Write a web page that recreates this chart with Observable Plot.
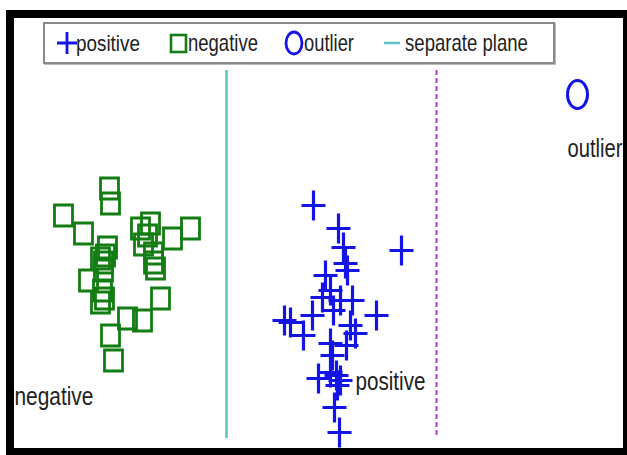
<!DOCTYPE html>
<html>
<head>
<meta charset="utf-8">
<script src="https://cdn.jsdelivr.net/npm/d3@7"></script>
<script src="https://cdn.jsdelivr.net/npm/@observablehq/plot@0.6"></script>
<style>
  html, body { margin: 0; padding: 0; background: #fff; }
  body { width: 627px; height: 455px; overflow: hidden; position: relative;
         font-family: 'Liberation Sans', Arial, sans-serif; }
  #frame { position: absolute; left: 6px; top: 10px; width: 625px; height: 446px;
           border: 8px solid #000; box-sizing: border-box; background: #fff; }
  #chart { position: absolute; left: 0; top: 0; }
  #legend { position: absolute; left: 29px; top: 4px; width: 512px; height: 42px;
            box-sizing: border-box; border: 2px solid #8a8a8a; background: #fff;
            box-shadow: 1px 1px 0 #bbb; }
  #legend svg { position: absolute; left: -2px; top: -2px; }
</style>
</head>
<body>
<div id="frame">
  <div id="chart"></div>
  <div id="legend"></div>
</div>
<script>
// ---- data (x to the right, y upward) ----
const negX = [95, 96, 49, 69, 126, 136, 133, 158, 176, 129, 139, 139, 141, 93, 91, 89, 86, 74, 89, 88, 90, 86, 146, 113, 128, 96, 99];
const negY = [260, 245, 233, 215, 220, 225, 213, 210, 220, 204, 195, 186, 180, 201, 193, 186, 190, 168, 178, 158, 150, 146, 150, 130, 128, 113, 88];

const posX = [299, 324, 387, 329, 331, 311, 333, 316, 308, 326, 338, 319, 362, 270, 276, 298, 289, 336, 341, 316, 332, 318, 304, 316, 322, 326, 323, 320, 325];
const posY = [243, 220, 198, 201, 185, 173, 178, 158, 151, 148, 148, 138, 133, 128, 126, 133, 113, 123, 115, 105, 103, 93, 70, 76, 73, 68, 63, 41, 16];

const outX = [563];
const outY = [354];

const planeNames = ["separate plane", "margin"];
const planeX = [212, 422];
const planeY1 = [10, 13];
const planeY2 = [378, 378];

const labelText = ["negative", "positive", "outlier"];
const labelX = [0, 341, 553];
const labelY = [44, 59, 292];

const legendLabels = ["positive", "negative", "outlier", "separate plane"];

// ---- styles ----
const BLUE = "#1414e6", GREEN = "#137d13", CYAN = "#5cc3c3", PURPLE = "#b044b8", TEXT = "#222";
const FONT = "'Liberation Sans', Arial, sans-serif";
const labelWidth = { negative: 79, positive: 70, outlier: 55 };
const legendWidth = { positive: 64, negative: 70, outlier: 50, "separate plane": 123 };

const plusSym = { draw(ctx) { ctx.moveTo(-12, 0); ctx.lineTo(12, 0); ctx.moveTo(0, -15); ctx.lineTo(0, 15); } };
const boxSym = { draw(ctx) { ctx.rect(-9, -10.5, 18, 21); } };
const ovalSym = { draw(ctx) {
  const rx = 10, ry = 14, k = 0.5523;
  ctx.moveTo(rx, 0);
  ctx.bezierCurveTo(rx, ry * k, rx * k, ry, 0, ry);
  ctx.bezierCurveTo(-rx * k, ry, -rx, ry * k, -rx, 0);
  ctx.bezierCurveTo(-rx, -ry * k, -rx * k, -ry, 0, -ry);
  ctx.bezierCurveTo(rx * k, -ry, rx, -ry * k, rx, 0);
  ctx.closePath();
} };

const neg = negX.map((x, i) => ({x, y: negY[i]}));
const pos = posX.map((x, i) => ({x, y: posY[i]}));
const out = outX.map((x, i) => ({x, y: outY[i]}));
const planes = planeNames.map((name, i) => ({name, x: planeX[i], y1: planeY1[i], y2: planeY2[i]}));
const labels = labelText.map((t, i) => ({t, x: labelX[i], y: labelY[i]}));

const chart = Plot.plot({
  width: 609, height: 430, margin: 0,
  style: { background: "transparent", fontFamily: FONT },
  x: { domain: [0, 609], axis: null },
  y: { domain: [0, 430], axis: null },
  marks: [
    Plot.ruleX(planes.slice(0, 1), { x: "x", y1: "y1", y2: "y2", stroke: CYAN, strokeWidth: 2.5 }),
    Plot.ruleX(planes.slice(1), { x: "x", y1: "y1", y2: "y2", stroke: PURPLE, strokeWidth: 2, strokeDasharray: "5,3" }),
    Plot.dot(neg, { x: "x", y: "y", symbol: boxSym, stroke: GREEN, fill: "none", strokeWidth: 2.8 }),
    Plot.dot(pos, { x: "x", y: "y", symbol: plusSym, stroke: BLUE, fill: "none", strokeWidth: 3.2 }),
    Plot.dot(out, { x: "x", y: "y", symbol: ovalSym, stroke: BLUE, fill: "none", strokeWidth: 3 }),
    Plot.text(labels, { x: "x", y: "y", text: "t", textAnchor: "start", lineAnchor: "bottom",
                        fontSize: 25, fill: TEXT })
  ]
});
document.getElementById("chart").appendChild(chart);

// condense the labels horizontally (narrow face of the original)
function condense(el, width) {
  const natural = el.getComputedTextLength();
  if (!natural || !width) return;
  const sx = width / natural;
  const t = el.getAttribute("transform") || "";
  el.setAttribute("transform", (t + ` scale(${sx},1)`).trim());
}
d3.select(chart).selectAll("text").each(function () {
  condense(this, labelWidth[this.textContent.trim()]);
});

// ---- legend ----
const lg = d3.select("#legend").append("svg").attr("width", 512).attr("height", 42);
const cy = 21;
const sym = lg.append("g");
sym.append("path").attr("d", "M14,21H34M24,10V32").attr("stroke", BLUE).attr("stroke-width", 2.8).attr("fill", "none");
sym.append("rect").attr("x", 128).attr("y", 13).attr("width", 15).attr("height", 17).attr("stroke", GREEN).attr("stroke-width", 2.6).attr("fill", "none");
sym.append("ellipse").attr("cx", 251).attr("cy", cy).attr("rx", 8).attr("ry", 11).attr("stroke", BLUE).attr("stroke-width", 2.8).attr("fill", "none");
sym.append("line").attr("x1", 341).attr("x2", 357).attr("y1", cy).attr("y2", cy).attr("stroke", CYAN).attr("stroke-width", 2.5);
const legendTextX = [33, 145, 261, 362];
lg.selectAll("text.l").data(legendLabels).join("text")
  .attr("transform", (d, i) => `translate(${legendTextX[i]},29)`)
  .attr("font-size", 23).attr("font-family", FONT).attr("fill", TEXT)
  .text(d => d)
  .each(function (d) { condense(this, legendWidth[d]); });
</script>
</body>
</html>
